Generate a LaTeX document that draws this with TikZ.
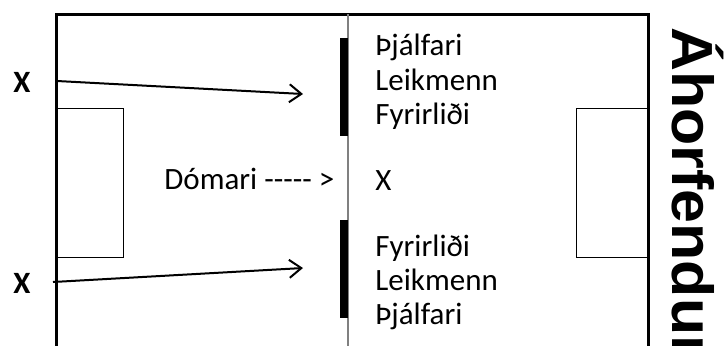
\documentclass[tikz,border=0pt]{standalone}
\usepackage{fontspec}
\setmainfont{Carlito}
\newfontfamily\standfont{Liberation Sans}
\usetikzlibrary{positioning,arrows.meta}
\newcommand\hyph{\mbox{-}}

\begin{document}
\begin{tikzpicture}[x=0.5pt,y=-0.5pt,
    sideline/.style={line width=1.5pt},
    goalbox/.style={draw,line width=0.5pt},
    bench/.style={fill=black},
    words/.style={font=\fontsize{15.5}{18}\selectfont,anchor=base west,inner sep=0pt},
    move/.style={line width=1pt,-{Straight Barb[length=6pt,width=9pt]}}]
    \useasboundingbox (0,0) rectangle (724,345);
    \clip (0,0) rectangle (724,345);

    % the pitch
    \draw [sideline] (56,360) -- (56,14) -- (648,14) -- (648,360);
    \draw [gray,line width=0.6pt] (348,14) -- (348,360);
    \draw [goalbox] (56,108) rectangle (123,257);
    \draw [goalbox] (576,108) rectangle (648,257);
    \fill [bench] (340,38) rectangle (348,136);
    \fill [bench] (340,220) rectangle (348,318);

    % who stands where
    \foreach \n/\t/\y in {c1/Þjálfari/55, p1/Leikmenn/90, k1/Fyrirliði/124, r/X/190, k2/Fyrirliði/256, p2/Leikmenn/290, c2/Þjálfari/324}
    \node [words] (\n) at (375,\y) {\t};
    \node [words] (judge) at (164,189) {Dómari \hyph\hyph\hyph\hyph\hyph{} >};

    \node [words,font=\fontsize{15.5}{18}\selectfont\bfseries] (x1) at (13,92) {X};
    \node [words,font=\fontsize{15.5}{18}\selectfont\bfseries] (x2) at (13,293) {X};
    \coordinate (s1) at (57,81);
    \coordinate (e1) at (303,94);
    \coordinate (s2) at (53,282);
    \coordinate (e2) at (303,268);
    \draw [move] (s1) -- (e1);
    \draw [move] (s2) -- (e2);

    \node [rotate=-90,anchor=base west,inner sep=0pt,font=\standfont\bfseries\fontsize{29}{31}\selectfont] (stand) at (672,27) {\scalebox{1.05}[1]{Áhorfendur}};
\end{tikzpicture}
\end{document}
